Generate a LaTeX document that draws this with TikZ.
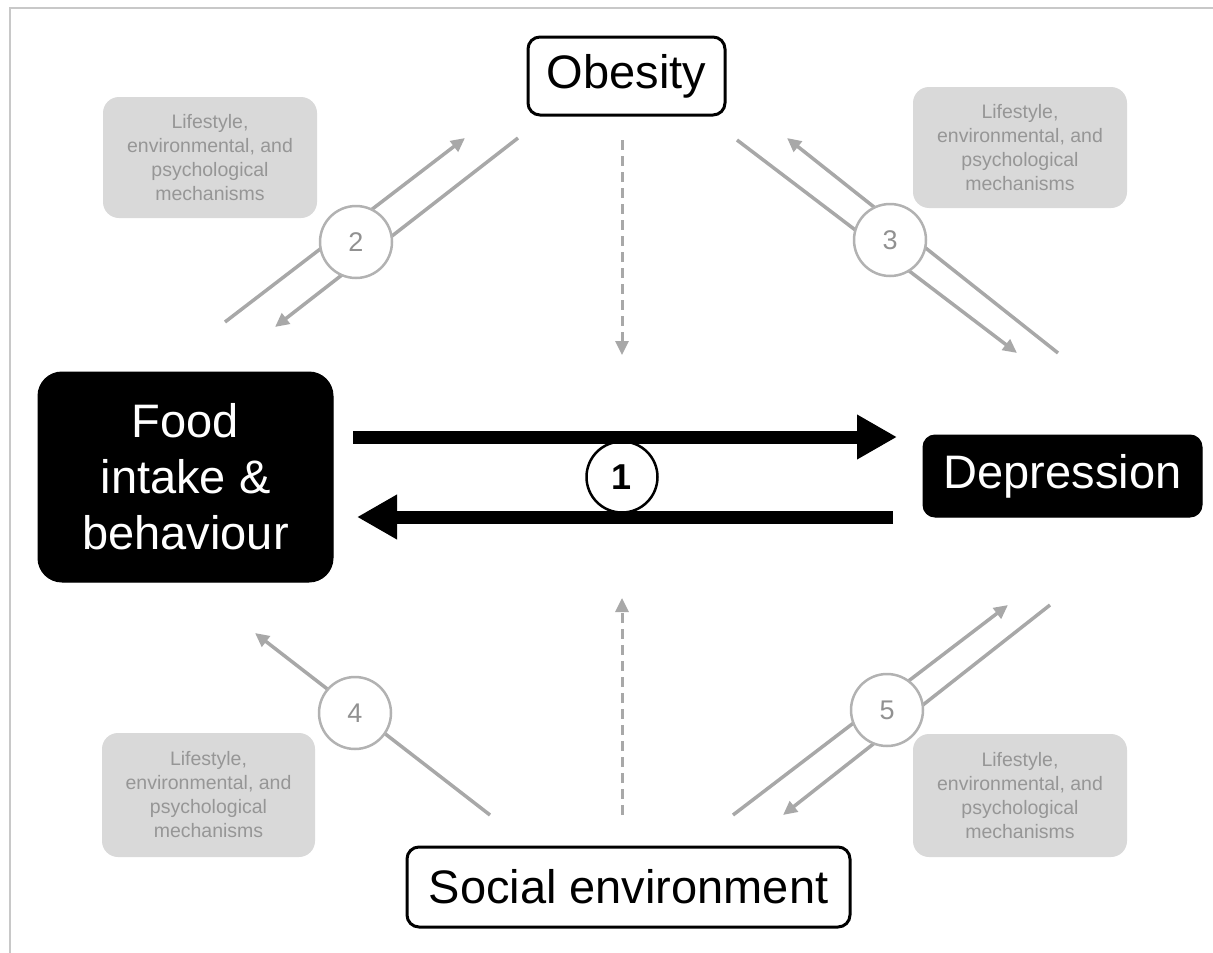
\documentclass[tikz,border=0pt]{standalone}
\usepackage{fontspec}
\setmainfont{Liberation Sans}
\usetikzlibrary{arrows.meta}
\definecolor{frameC}{RGB}{200,200,200}
\definecolor{lineC}{RGB}{168,168,168}
\definecolor{circC}{RGB}{178,178,178}
\definecolor{boxC}{RGB}{217,217,217}
\definecolor{boxtxtC}{RGB}{150,150,150}
\definecolor{numC}{RGB}{145,145,145}
\tikzset{
  mainwhite/.style={draw=black, line width=3pt, fill=white, rounded corners=12pt, inner sep=0pt, font=\fontsize{47}{56}\selectfont},
  mainblack/.style={draw=black, line width=1pt, fill=black, text=white, rounded corners=24pt, inner sep=0pt, align=center, font=\fontsize{47}{56}\selectfont},
  mechbox/.style={fill=boxC, rounded corners=16pt, inner sep=0pt, align=center, text=boxtxtC, font=\fontsize{19.5}{24}\selectfont},
  graynum/.style={circle, draw=circC, line width=2.5pt, fill=white, minimum size=72pt, inner sep=0pt, text=numC, font=\fontsize{27}{30}\selectfont},
  blacknum/.style={circle, draw=black, line width=2.5pt, fill=white, minimum size=71pt, inner sep=0pt, font=\bfseries\fontsize{36}{40}\selectfont},
  grayarrow/.style={draw=lineC, line width=3.5pt, -{Triangle[length=14pt,width=13pt]}},
  grayline/.style={draw=lineC, line width=3.5pt},
  dasharrow/.style={draw=lineC, line width=3pt, dash pattern=on 10pt off 6pt, -{Triangle[length=14pt,width=13pt]}},
  bigarrow/.style={draw=black, line width=13pt, -{Triangle[length=40pt,width=42pt]}}
}
\begin{document}
\begin{tikzpicture}[x=1pt,y=-1pt]
\useasboundingbox (0,0) rectangle (1213,953);
\draw[frameC, line width=2pt] (1213,8) -- (10,8) -- (10,953);

% main nodes
\node[mainwhite, minimum width=197pt, minimum height=78pt] (obesity) at (626.5,76) {Obesity};
\node[mainwhite, minimum width=443pt, minimum height=80pt] (social) at (628.5,887) {Social environment};
\node[mainblack, minimum width=295pt, minimum height=210pt] (food) at (185.5,477) {Food\\intake \&\\behaviour};
\node[mainblack, rounded corners=12pt, minimum width=279pt, minimum height=82pt] (depression) at (1062.5,476) {Depression};

% mechanism boxes
\node[mechbox, minimum width=214pt, minimum height=121pt] (mechA) at (210,157.5) {Lifestyle,\\environmental, and\\psychological\\mechanisms};
\node[mechbox, minimum width=214pt, minimum height=121pt] (mechB) at (1020,147.5) {Lifestyle,\\environmental, and\\psychological\\mechanisms};
\node[mechbox, minimum width=213pt, minimum height=124pt] (mechC) at (208.5,795) {Lifestyle,\\environmental, and\\psychological\\mechanisms};
\node[mechbox, minimum width=214pt, minimum height=123pt] (mechD) at (1020,795.5) {Lifestyle,\\environmental, and\\psychological\\mechanisms};

% path 1
\node[blacknum] (n1) at (622,477) {1};
\coordinate (a1s) at (353,437);
\coordinate (a1e) at (897,437);
\coordinate (b1s) at (893,517);
\coordinate (b1e) at (357,517);
\draw[bigarrow] (a1s) -- (a1e);
\draw[bigarrow] (b1s) -- (b1e);

% dashed arrows
\coordinate (dts) at (622,140);
\coordinate (dte) at (622,355);
\coordinate (dbs) at (622,815);
\coordinate (dbe) at (622,598);
\draw[dasharrow] (dts) -- (dte);
\draw[dasharrow] (dbs) -- (dbe);

% path 2
\coordinate (p2as) at (225,322);
\coordinate (p2ae) at (465,138);
\coordinate (p2bs) at (518,138);
\coordinate (p2be) at (275,327);
\draw[grayarrow] (p2as) -- (p2ae);
\draw[grayarrow] (p2bs) -- (p2be);
\node[graynum] (n2) at (356,242) {2};

% path 3
\coordinate (p3as) at (737,140);
\coordinate (p3ae) at (1017,353);
\coordinate (p3bs) at (1058,353);
\coordinate (p3be) at (787,138);
\draw[grayarrow] (p3as) -- (p3ae);
\draw[grayarrow] (p3bs) -- (p3be);
\node[graynum] (n3) at (890,240) {3};

% path 4
\coordinate (p4s) at (490,815);
\coordinate (p4e) at (255,633);
\draw[grayarrow] (p4s) -- (p4e);
\node[graynum] (n4) at (355,713) {4};

% path 5
\coordinate (p5as) at (733,815);
\coordinate (p5ae) at (1008,605);
\coordinate (p5bs) at (1050,605);
\coordinate (p5be) at (783,815);
\draw[grayarrow] (p5as) -- (p5ae);
\draw[grayarrow] (p5bs) -- (p5be);
\node[graynum] (n5) at (887,710) {5};
\end{tikzpicture}
\end{document}
